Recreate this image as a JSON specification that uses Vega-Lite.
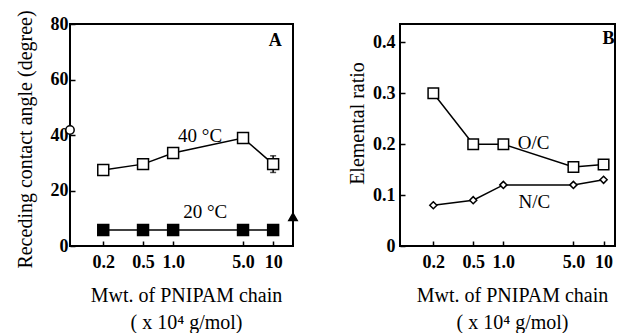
{
  "$schema": "https://vega.github.io/schema/vega-lite/v6.json",
  "background": "white",
  "padding": {"left": 13, "top": 8, "right": 0, "bottom": 0},
  "config": {
    "font": "Liberation Serif",
    "view": {"stroke": "black", "strokeWidth": 2},
    "axis": {
      "domain": false, "grid": false, "tickColor": "black", "tickSize": -5, "tickWidth": 1.5,
      "labelFont": "Liberation Serif", "labelFontSize": 18, "labelFontWeight": "bold", "labelColor": "black",
      "titleFont": "Liberation Serif", "titleFontSize": 20, "titleFontWeight": "normal", "titleColor": "black"
    },
    "concat": {"spacing": 44}
  },
  "resolve": {"scale": {"shape": "independent", "fill": "independent", "size": "independent"}},
  "datasets": {
    "angle": [
      {"mw": 0.2, "v": 27.4, "series": "40 °C"},
      {"mw": 0.5, "v": 29.5, "series": "40 °C"},
      {"mw": 1.0, "v": 33.5, "series": "40 °C"},
      {"mw": 5.0, "v": 38.9, "series": "40 °C"},
      {"mw": 10, "v": 29.5, "series": "40 °C"},
      {"mw": 0.2, "v": 5.8, "series": "20 °C"},
      {"mw": 0.5, "v": 5.8, "series": "20 °C"},
      {"mw": 1.0, "v": 5.8, "series": "20 °C"},
      {"mw": 5.0, "v": 5.8, "series": "20 °C"},
      {"mw": 10, "v": 5.8, "series": "20 °C"}
    ],
    "refs": [
      {"mw": 0.093, "v": 41.8, "kind": "circle"},
      {"mw": 15.8, "v": 10.5, "kind": "triangle-up"}
    ],
    "err": [{"mw": 10, "v": 26.5, "hi": 32.5}],
    "errcap": [{"mw": 10, "v": 26.5}, {"mw": 10, "v": 32.5}],
    "labelsA": [
      {"mw": 1.86, "v": 39.6, "label": "40 °C"},
      {"mw": 2.09, "v": 12.3, "label": "20 °C"}
    ],
    "ratio": [
      {"mw": 0.2, "v": 0.30, "series": "O/C"},
      {"mw": 0.5, "v": 0.20, "series": "O/C"},
      {"mw": 1.0, "v": 0.20, "series": "O/C"},
      {"mw": 5.0, "v": 0.155, "series": "O/C"},
      {"mw": 10, "v": 0.16, "series": "O/C"},
      {"mw": 0.2, "v": 0.08, "series": "N/C"},
      {"mw": 0.5, "v": 0.09, "series": "N/C"},
      {"mw": 1.0, "v": 0.12, "series": "N/C"},
      {"mw": 5.0, "v": 0.12, "series": "N/C"},
      {"mw": 10, "v": 0.13, "series": "N/C"}
    ],
    "labelsB": [
      {"mw": 2.0, "v": 0.202, "label": "O/C"},
      {"mw": 2.04, "v": 0.087, "label": "N/C"}
    ]
  },
  "hconcat": [
    {
      "width": 223,
      "height": 222,
      "encoding": {
        "x": {
          "field": "mw", "type": "quantitative",
          "scale": {"type": "log", "domain": [0.093, 15.8]},
          "axis": {
            "values": [0.2, 0.5, 1, 5, 10],
            "labelExpr": "datum.value == 10 ? '10' : format(datum.value, '.1f')",
            "labelPadding": 12, "titlePadding": 14, "titleLineHeight": 27, "titleX": 116,
            "title": ["Mwt. of PNIPAM chain", "( x 10⁴ g/mol)"]
          }
        },
        "y": {
          "field": "v", "type": "quantitative",
          "scale": {"domain": [0, 80], "nice": false, "zero": true},
          "axis": {"values": [0, 20, 40, 60, 80], "labelPadding": 7, "titlePadding": 15, "titleY": 115, "title": "Receding contact angle (degree)"}
        }
      },
      "layer": [
        {
          "data": {"name": "angle"},
          "mark": {"type": "line", "color": "black", "strokeWidth": 1.5},
          "encoding": {"detail": {"field": "series"}}
        },
        {
          "data": {"name": "err"},
          "mark": {"type": "rule", "color": "black", "strokeWidth": 1.5},
          "encoding": {"y2": {"field": "hi"}}
        },
        {
          "data": {"name": "errcap"},
          "mark": {"type": "tick", "orient": "horizontal", "color": "black", "size": 6, "thickness": 1.5}
        },
        {
          "data": {"name": "angle"},
          "mark": {"type": "point", "shape": "square", "size": 120, "stroke": "black", "strokeWidth": 1.5, "opacity": 1},
          "encoding": {
            "fill": {"field": "series", "type": "nominal", "scale": {"domain": ["40 °C", "20 °C"], "range": ["white", "black"]}, "legend": null}
          }
        },
        {
          "data": {"name": "refs"},
          "mark": {"type": "point", "size": 70, "stroke": "black", "strokeWidth": 1.5, "opacity": 1},
          "encoding": {
            "shape": {"field": "kind", "type": "nominal", "scale": {"domain": ["circle", "triangle-up"], "range": ["circle", "triangle-up"]}, "legend": null},
            "fill": {"field": "kind", "type": "nominal", "scale": {"domain": ["circle", "triangle-up"], "range": ["white", "black"]}, "legend": null}
          }
        },
        {
          "data": {"name": "labelsA"},
          "mark": {"type": "text", "fontSize": 19, "font": "Liberation Serif", "color": "black", "align": "center", "baseline": "middle"},
          "encoding": {"text": {"field": "label"}}
        },
        {
          "data": {"values": [{"mw": 10.5, "v": 73.9, "label": "A"}]},
          "mark": {"type": "text", "fontSize": 18, "fontWeight": "bold", "font": "Liberation Serif", "color": "black", "align": "center", "baseline": "middle"},
          "encoding": {"text": {"field": "label"}}
        }
      ]
    },
    {
      "width": 215,
      "height": 222,
      "encoding": {
        "x": {
          "field": "mw", "type": "quantitative",
          "scale": {"type": "log", "domain": [0.093, 13.0]},
          "axis": {
            "values": [0.2, 0.5, 1, 5, 10],
            "labelExpr": "datum.value == 10 ? '10' : format(datum.value, '.1f')",
            "labelPadding": 12, "titlePadding": 14, "titleLineHeight": 27, "titleX": 112,
            "title": ["Mwt. of PNIPAM chain", "( x 10⁴ g/mol)"]
          }
        },
        "y": {
          "field": "v", "type": "quantitative",
          "scale": {"domain": [0, 0.436], "nice": false, "zero": true},
          "axis": {
            "values": [0, 0.1, 0.2, 0.3, 0.4],
            "labelExpr": "datum.value == 0 ? '0' : format(datum.value, '.1f')",
            "labelPadding": 10, "titlePadding": 5, "titleY": 99, "title": "Elemental ratio"
          }
        }
      },
      "layer": [
        {
          "data": {"name": "ratio"},
          "mark": {"type": "line", "color": "black", "strokeWidth": 1.5},
          "encoding": {"detail": {"field": "series"}}
        },
        {
          "data": {"name": "ratio"},
          "mark": {"type": "point", "fill": "white", "stroke": "black", "strokeWidth": 1.5, "opacity": 1},
          "encoding": {
            "shape": {"field": "series", "type": "nominal", "scale": {"domain": ["O/C", "N/C"], "range": ["square", "diamond"]}, "legend": null},
            "size": {"field": "series", "type": "nominal", "scale": {"domain": ["O/C", "N/C"], "range": [110, 50]}, "legend": null}
          }
        },
        {
          "data": {"name": "labelsB"},
          "mark": {"type": "text", "fontSize": 19, "font": "Liberation Serif", "color": "black", "align": "center", "baseline": "middle"},
          "encoding": {"text": {"field": "label"}}
        },
        {
          "data": {"values": [{"mw": 11.2, "v": 0.406, "label": "B"}]},
          "mark": {"type": "text", "fontSize": 18, "fontWeight": "bold", "font": "Liberation Serif", "color": "black", "align": "center", "baseline": "middle"},
          "encoding": {"text": {"field": "label"}}
        }
      ]
    }
  ]
}
